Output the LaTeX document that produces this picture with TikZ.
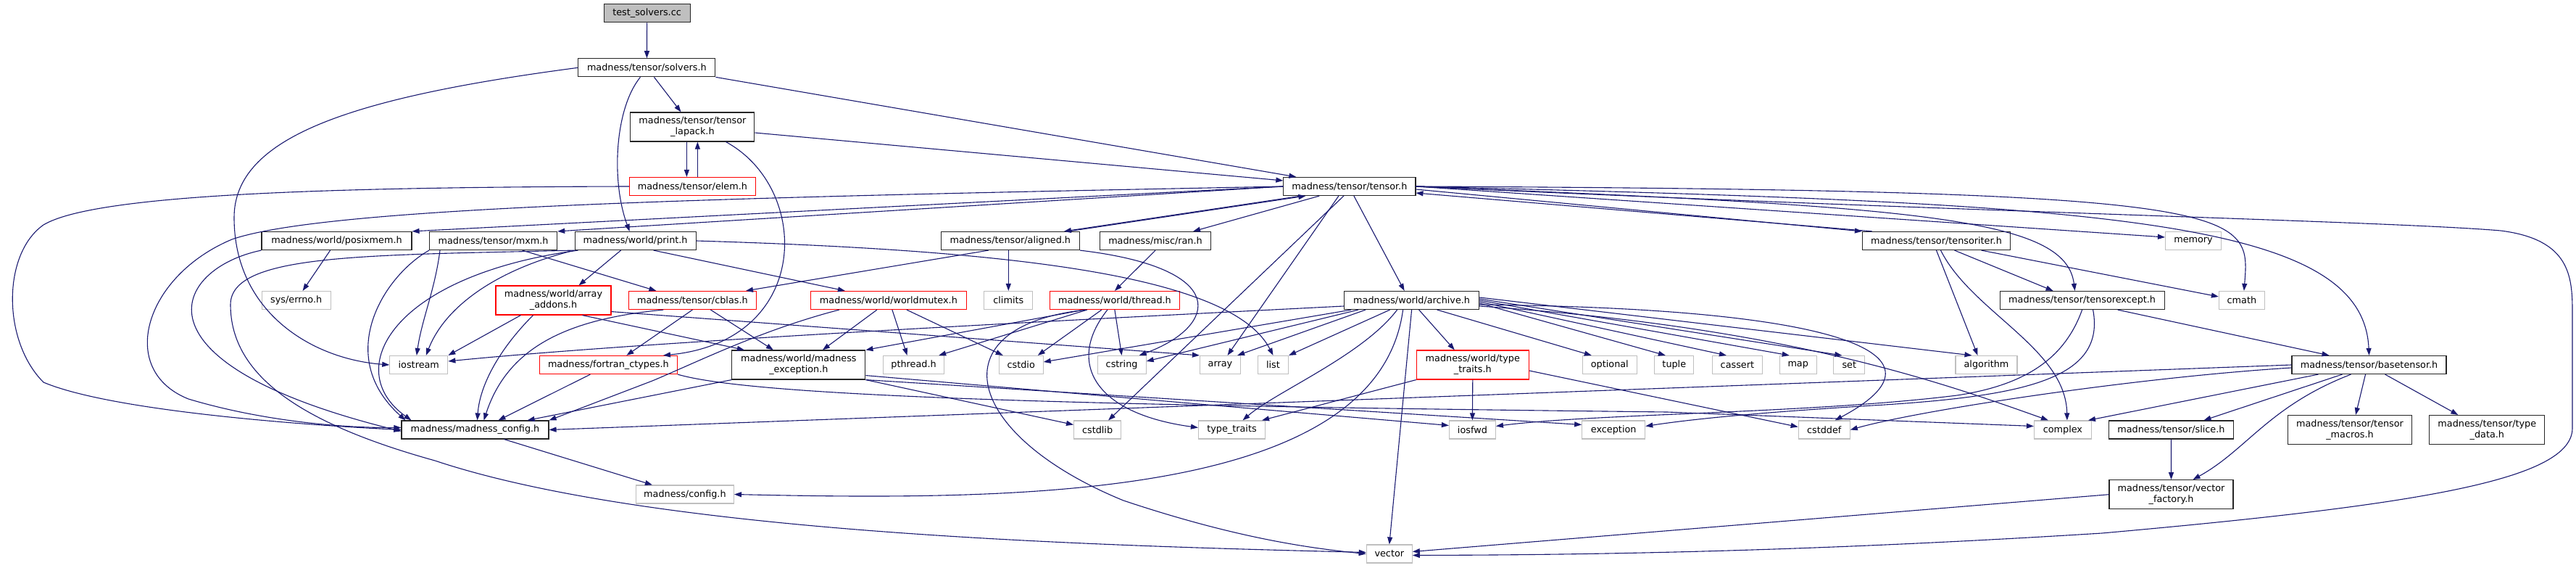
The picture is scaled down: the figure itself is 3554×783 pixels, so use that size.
\documentclass[tikz,border=0pt]{standalone}
\usepackage{fontspec}
\setmainfont{DejaVu Sans}
\usetikzlibrary{arrows.meta}
\definecolor{tinta}{HTML}{000000}
\definecolor{borde}{HTML}{262626}
\definecolor{grisb}{HTML}{BFBFBF}
\definecolor{rojob}{HTML}{FF0000}
\definecolor{azul}{HTML}{191970}
\tikzset{
  nodo/.style={rectangle, draw=borde, fill=white, line width=1.15pt, minimum height=25pt,
               inner xsep=4pt, inner ysep=2pt, text centered, align=center,
               font=\fontsize{12.8}{15}\selectfont, text=tinta},
  nodorojo/.style={nodo, draw=rojob},
  nodogris/.style={nodo, draw=grisb},
  raiz/.style={nodo, fill=grisb},
  doble/.style={minimum height=40pt},
  arrow/.style={line width=1.1pt,->,>={Triangle[length=10pt,width=7pt]},color=azul}
}

\begin{document}
\begin{tikzpicture}[x=1pt, y=-1pt]
  \useasboundingbox (0,0) rectangle (3554,783);
  \node (test) [raiz, minimum width=119pt] at (892.6,18.3) {test\_solvers.cc};
  \node (solvers) [nodo, minimum width=189pt] at (892.4,93.3) {madness/tensor/solvers.h};
  \node (lapack) [nodo, doble, minimum width=171pt] at (955.4,175) {madness/tensor/tensor\\\_lapack.h};
  \node (elem) [nodorojo, minimum width=174pt] at (955.4,257) {madness/tensor/elem.h};
  \node (tensor) [nodo, minimum width=182pt] at (1861.9,257) {madness/tensor/tensor.h};
  \node (posixmem) [nodo, minimum width=207pt] at (464.5,332) {madness/world/posixmem.h};
  \node (mxm) [nodo, minimum width=176pt] at (680.6,332) {madness/tensor/mxm.h};
  \node (print) [nodo, minimum width=167pt] at (876.6,332) {madness/world/print.h};
  \node (aligned) [nodo, minimum width=191pt] at (1393.8,332) {madness/tensor/aligned.h};
  \node (ran) [nodo, minimum width=153pt] at (1594,332) {madness/misc/ran.h};
  \node (iter) [nodo, minimum width=204pt] at (2671.5,332) {madness/tensor/tensoriter.h};
  \node (memory) [nodogris, minimum width=77pt] at (3026,332) {memory};
  \node (errno) [nodogris, minimum width=95pt] at (408.7,414) {sys/errno.h};
  \node (addons) [nodorojo, doble, minimum width=159pt] at (763.5,414) {madness/world/array\\\_addons.h};
  \node (cblas) [nodorojo, minimum width=176pt] at (955.4,414) {madness/tensor/cblas.h};
  \node (mutex) [nodorojo, minimum width=215pt] at (1225.9,414) {madness/world/worldmutex.h};
  \node (climits) [nodogris, minimum width=67pt] at (1391.3,414) {climits};
  \node (thread) [nodorojo, minimum width=179pt] at (1537.9,414) {madness/world/thread.h};
  \node (archive) [nodo, minimum width=186pt] at (1947.6,414) {madness/world/archive.h};
  \node (except) [nodo, minimum width=227pt] at (2872.6,414) {madness/tensor/tensorexcept.h};
  \node (cmath) [nodogris, minimum width=63pt] at (3092.9,414) {cmath};
  \node (iostream) [nodogris, minimum width=80pt] at (577.8,503) {iostream};
  \node (fortran) [nodorojo, minimum width=190pt] at (839.4,503) {madness/fortran\_ctypes.h};
  \node (mexc) [nodo, doble, minimum width=184pt] at (1101.9,503) {madness/world/madness\\\_exception.h};
  \node (pthread) [nodogris, minimum width=84pt] at (1260.6,503) {pthread.h};
  \node (cstdio) [nodogris, minimum width=61pt] at (1408.7,503) {cstdio};
  \node (cstring) [nodogris, minimum width=67pt] at (1547.6,503) {cstring};
  \node (array) [nodogris, minimum width=56pt] at (1683.5,503) {array};
  \node (list) [nodogris, minimum width=42pt] at (1756.5,503) {list};
  \node (ttraitsh) [nodorojo, doble, minimum width=155pt] at (2031.8,503) {madness/world/type\\\_traits.h};
  \node (optional) [nodogris, minimum width=75pt] at (2220.8,503) {optional};
  \node (tuple) [nodogris, minimum width=54pt] at (2309.8,503) {tuple};
  \node (cassert) [nodogris, minimum width=69pt] at (2396.9,503) {cassert};
  \node (map) [nodogris, minimum width=51pt] at (2480.7,503) {map};
  \node (set) [nodogris, minimum width=43pt] at (2551.3,503) {set};
  \node (algorithm) [nodogris, minimum width=85pt] at (2740.5,503) {algorithm};
  \node (base) [nodo, minimum width=213pt] at (3268.5,503) {madness/tensor/basetensor.h};
  \node (mconfig) [nodo, minimum width=203pt] at (655.5,592.5) {madness/madness\_config.h};
  \node (cstdlib) [nodogris, minimum width=65pt] at (1514.1,592.5) {cstdlib};
  \node (typetraits) [nodogris, minimum width=92pt] at (1699.5,592.5) {type\_traits};
  \node (iosfwd) [nodogris, minimum width=64pt] at (2031.4,592.5) {iosfwd};
  \node (exception) [nodogris, minimum width=87pt] at (2226.2,592.5) {exception};
  \node (cstddef) [nodogris, minimum width=71pt] at (2516.7,592.5) {cstddef};
  \node (complex) [nodogris, minimum width=79pt] at (2845.9,592.5) {complex};
  \node (slice) [nodo, minimum width=172pt] at (2995.4,592.5) {madness/tensor/slice.h};
  \node (macros) [nodo, doble, minimum width=171pt] at (3242,592.5) {madness/tensor/tensor\\\_macros.h};
  \node (typedata) [nodo, doble, minimum width=159pt] at (3431.3,592.5) {madness/tensor/type\\\_data.h};
  \node (config) [nodogris, minimum width=135pt] at (944.9,681.5) {madness/config.h};
  \node (vfactory) [nodo, doble, minimum width=171pt] at (2995.5,681.7) {madness/tensor/vector\\\_factory.h};
  \node (vector) [nodogris, minimum width=63pt] at (1916.8,763.5) {vector};

  \draw [arrow] (test) -- (solvers);
  \draw [arrow] (solvers) -- (lapack);
  \draw [arrow] ([xshift=-9pt]solvers.south) .. controls (848,150) and (843,250) .. ([xshift=-8pt]print.north);
  \draw [arrow] (solvers.south east) -- ([xshift=18pt]tensor.north west);
  \draw [arrow] (solvers.west) .. controls (480,135) and (323,190) .. (323,300) .. controls (323,430) and (430,495) .. (iostream.west);
  \draw [arrow] ([xshift=-8pt]lapack.south) -- ([xshift=-8pt]elem.north);
  \draw [arrow] ([xshift=7pt]elem.north) -- ([xshift=7pt]lapack.south);
  \draw [arrow] ([yshift=-8pt]lapack.east) -- ([yshift=8pt]tensor.west);
  \draw [arrow] ([xshift=-40pt]lapack.south east) .. controls (1120,260) and (1120,470) .. ([xshift=-20pt]fortran.north east);
  \draw [arrow] (elem.west) .. controls (450,258) and (130,268) .. (60,310) .. controls (3,350) and (3,470) .. (60,527) .. controls (150,565) and (400,585) .. (mconfig.west);

  \draw [arrow] (tensor.west) -- (posixmem.north east);
  \draw [arrow] (tensor.west) -- (mxm.north east);
  \draw [arrow] (tensor.west) .. controls (1000,272) and (450,285) .. (320,330) .. controls (200,380) and (160,510) .. (260,550) .. controls (360,580) and (470,590) .. ([yshift=3pt]mconfig.west);
  \draw [arrow] ([xshift=25pt]tensor.south west) -- ([xshift=-22pt]aligned.north east);
  \draw [arrow] ([xshift=-16pt]aligned.north east) -- ([xshift=31pt]tensor.south west);
  \draw [arrow] ([xshift=50pt]tensor.south west) -- ([xshift=-25pt]ran.north east);
  \draw [arrow] ([yshift=-4pt]tensor.east) -- (iter.north west);
  \draw [arrow] ([xshift=14pt]iter.north west) -- ([yshift=-9pt]tensor.east);
  \draw [arrow] (tensor.east) -- ([yshift=5pt]memory.west);
  \draw [arrow] ([xshift=6pt]tensor.south) -- ([xshift=-10pt]archive.north);
  \draw [arrow] ([xshift=-15pt]tensor.south) -- ([xshift=10pt]array.north);
  \draw [arrow] ([xshift=-8pt]tensor.south) -- ([xshift=15pt]cstdlib.north);
  \draw [arrow] (tensor.east) .. controls (2650,285) and (2850,300) .. ([xshift=-10pt]except.north);
  \draw [arrow] (tensor.east) .. controls (3110,262) and (3105,290) .. ([xshift=3pt]cmath.north);
  \draw [arrow] (tensor.east) .. controls (2900,280) and (3260,300) .. (base.north);
  \draw [arrow] (tensor.east) .. controls (2700,292) and (3300,305) .. (3450,318) .. controls (3545,330) and (3549,380) .. (3549,430) -- (3549,590) .. controls (3549,660) and (3350,695) .. (2900,735) .. controls (2500,760) and (2200,765) .. ([yshift=-2pt]vector.east);

  \draw [arrow] (posixmem) -- (errno);
  \draw [arrow] (posixmem.south west) .. controls (240,370) and (170,500) .. ([yshift=-2pt]mconfig.west);
  \draw [arrow] ([xshift=40pt]mxm.south) -- ([xshift=-50pt]cblas.north);
  \draw [arrow] (mxm.south west) .. controls (530,380) and (460,490) .. ([xshift=6pt]mconfig.north west);
  \draw [arrow] ([xshift=15pt]mxm.south west) .. controls (600,400) and (582,440) .. ([xshift=-3pt]iostream.north);
  \draw [arrow] ([xshift=-20pt]print.south) -- ([xshift=35pt]addons.north);
  \draw [arrow] ([xshift=25pt]print.south) -- ([xshift=-60pt]mutex.north);
  \draw [arrow] (print.south west) .. controls (690,370) and (615,420) .. ([xshift=10pt]iostream.north);
  \draw [arrow] ([xshift=5pt]print.south west) .. controls (540,380) and (470,510) .. ([xshift=14pt]mconfig.north west);
  \draw [arrow] (print.east) .. controls (1400,345) and (1700,380) .. (list.north);
  \draw [arrow] (print.south west) .. controls (500,352) and (318,350) .. (318,420) .. controls (318,520) and (420,585) .. (600,635) .. controls (900,735) and (1500,752) .. ([yshift=2pt]vector.west);
  \draw [arrow] ([xshift=-30pt]aligned.south) -- ([xshift=-15pt]cblas.north east);
  \draw [arrow] (climits.north |- aligned.south) -- (climits.north);
  \draw [arrow] (aligned.south east) .. controls (1700,370) and (1680,450) .. ([xshift=-10pt]cstring.north east);
  \draw [arrow] (ran.south) -- (thread.north);

  \draw [arrow] ([xshift=35pt]addons.south west) -- (iostream.north east);
  \draw [arrow] ([xshift=-28pt]addons.south) .. controls (690,480) and (662,530) .. ([xshift=3pt]mconfig.north);
  \draw [arrow] ([xshift=40pt]addons.south) -- ([xshift=-75pt]mexc.north);
  \draw [arrow] ([yshift=5pt]addons.south east) -- (array.north west);
  \draw [arrow] (cblas.south) -- ([xshift=25pt]fortran.north);
  \draw [arrow] ([xshift=25pt]cblas.south) -- ([xshift=-35pt]mexc.north);
  \draw [arrow] ([xshift=-40pt]cblas.south) .. controls (780,440) and (700,480) .. ([xshift=12pt]mconfig.north);
  \draw [arrow] ([xshift=-25pt]fortran.south) -- ([xshift=32pt]mconfig.north);
  \draw [arrow] (fortran.south east) .. controls (1050,550) and (1600,560) .. (2300,568) -- ([yshift=5pt]complex.west);
  \draw [arrow] (mexc.south west) -- ([xshift=-30pt]mconfig.north east);
  \draw [arrow] (mexc.south east) -- ([yshift=7pt]cstdlib.west);
  \draw [arrow] (mexc.south east) -- ([yshift=7pt]exception.west);
  \draw [arrow] ([yshift=6pt]mexc.south east) -- ([yshift=6pt]iosfwd.west);
  \draw [arrow] ([xshift=-16pt]mutex.south) -- ([xshift=33pt]mexc.north);
  \draw [arrow] ([xshift=5pt]mutex.south) -- ([xshift=-9pt]pthread.north);
  \draw [arrow] ([xshift=25pt]mutex.south) -- ([xshift=-25pt]cstdio.north);
  \draw [arrow] ([xshift=40pt]mutex.south west) .. controls (1050,455) and (960,500) .. (900,525) -- (mconfig.north east);
  \draw [arrow] ([xshift=48pt]thread.south west) -- (mexc.north east);
  \draw [arrow] ([xshift=52pt]thread.south west) -- ([xshift=-8pt]pthread.north east);
  \draw [arrow] ([xshift=-18pt]thread.south) -- ([xshift=-8pt]cstdio.north east);
  \draw [arrow] (thread.south) -- (cstring.north);
  \draw [arrow] ([xshift=-40pt]thread.south) .. controls (1290,450) and (1330,600) .. (1550,690) .. controls (1700,740) and (1800,755) .. (vector.west);
  \draw [arrow] ([xshift=-10pt]thread.south) .. controls (1470,500) and (1510,570) .. ([yshift=3pt]typetraits.west);

  \draw [arrow] ([yshift=-8pt]archive.west) .. controls (1500,440) and (900,470) .. ([yshift=5pt]iostream.east);
  \draw [arrow] ([xshift=10pt]archive.south west) -- ([yshift=4pt]cstdio.east);
  \draw [arrow] ([xshift=20pt]archive.south west) -- ([yshift=5pt]cstring.east);
  \draw [arrow] ([xshift=30pt]archive.south west) -- ([xshift=-5pt]array.north east);
  \draw [arrow] ([xshift=-30pt]archive.south) -- (list.north east);
  \draw [arrow] ([xshift=10pt]archive.south) -- ([xshift=-25pt]ttraitsh.north);
  \draw [arrow] ([xshift=35pt]archive.south) -- ([xshift=-25pt]optional.north);
  \draw [arrow] ([yshift=-4pt]archive.east) -- ([xshift=-12pt]tuple.north);
  \draw [arrow] ([yshift=-2pt]archive.east) -- ([xshift=-15pt]cassert.north);
  \draw [arrow] (archive.east) -- ([xshift=-12pt]map.north);
  \draw [arrow] ([yshift=2pt]archive.east) -- ([xshift=-10pt]set.north);
  \draw [arrow] ([yshift=4pt]archive.east) -- ([xshift=-20pt]algorithm.north);
  \draw [arrow] ([yshift=-6pt]archive.east) .. controls (2550,425) and (2700,490) .. ([xshift=15pt]cstddef.north);
  \draw [arrow] ([yshift=-8pt]archive.east) .. controls (2450,450) and (2660,520) .. ([xshift=-20pt]complex.north);
  \draw [arrow] ([xshift=-20pt]archive.south) .. controls (1880,490) and (1760,540) .. ([xshift=15pt]typetraits.north);
  \draw [arrow] (archive.south) -- (vector.north);
  \draw [arrow] ([xshift=-12pt]archive.south) .. controls (1900,690) and (1400,690) .. (config.east);
  \draw [arrow] (ttraitsh.south west) -- ([xshift=-5pt]typetraits.north east);
  \draw [arrow] (ttraitsh.south) -- (iosfwd.north);
  \draw [arrow] ([yshift=-8pt]ttraitsh.east) -- ([yshift=4pt]cstddef.west);

  \draw [arrow] ([xshift=25pt]iter.south) -- ([xshift=-40pt]except.north);
  \draw [arrow] ([xshift=62pt]iter.south) -- ([yshift=5pt]cmath.west);
  \draw [arrow] (iter.south) -- ([xshift=-12pt]algorithm.north);
  \draw [arrow] ([xshift=6pt]iter.south) .. controls (2720,430) and (2850,480) .. ([xshift=6pt]complex.north);
  \draw [arrow] ([xshift=-65pt]except.south east) -- ([xshift=-55pt]base.north);
  \draw [arrow] (except.south) .. controls (2850,490) and (2800,530) .. (2700,545) .. controls (2500,570) and (2200,570) .. ([yshift=5pt]iosfwd.east);
  \draw [arrow] ([xshift=15pt]except.south) .. controls (2905,520) and (2800,545) .. (2600,558) .. controls (2400,570) and (2320,580) .. ([yshift=5pt]exception.east);
  \draw [arrow] ([xshift=-37pt]base.south) -- ([xshift=45pt]slice.north);
  \draw [arrow] ([xshift=-25pt]base.south) .. controls (3130,560) and (3100,620) .. ([xshift=30pt]vfactory.north);
  \draw [arrow] ([xshift=-5pt]base.south) -- ([xshift=8pt]macros.north);
  \draw [arrow] ([xshift=22pt]base.south) -- ([xshift=-40pt]typedata.north);
  \draw [arrow] ([xshift=-70pt]base.south) -- ([xshift=-5pt]complex.north east);
  \draw [arrow] ([yshift=-4pt]base.west) .. controls (2950,520) and (2650,565) .. (cstddef.east);
  \draw [arrow] (base.west) -- (mconfig.east);
  \draw [arrow] (slice) -- (vfactory);
  \draw [arrow] (vfactory.west) -- ([yshift=3pt]vector.east);
  \draw [arrow] ([xshift=40pt]mconfig.south) -- ([xshift=-45pt]config.north);
\end{tikzpicture}
\end{document}
